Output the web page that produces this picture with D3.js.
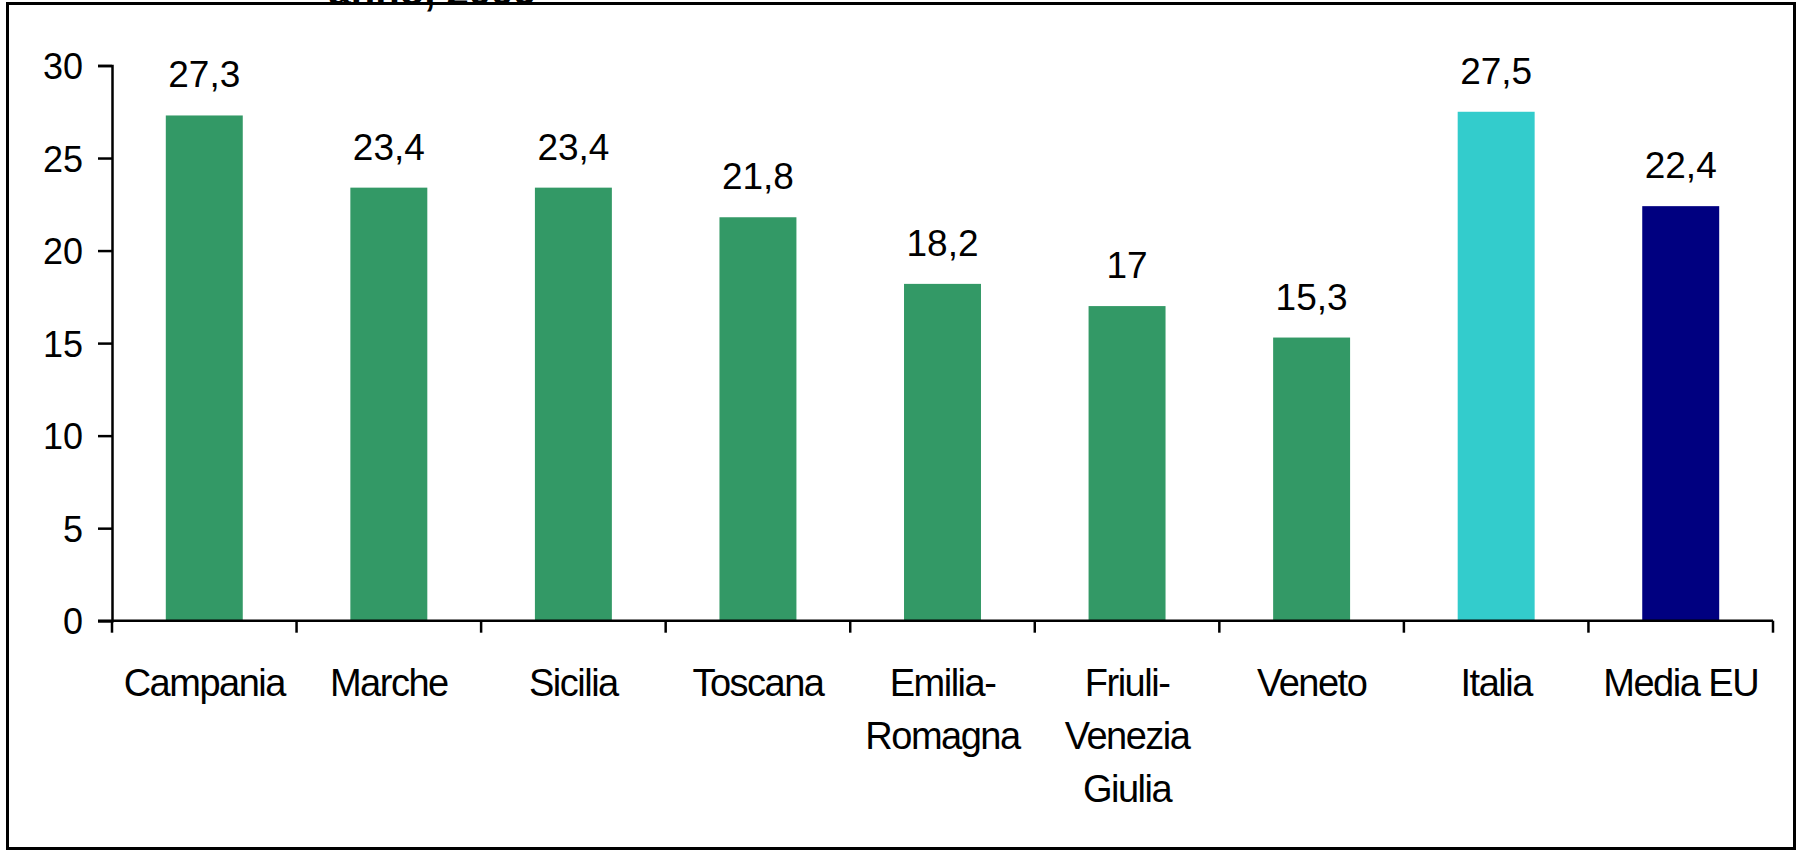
<!DOCTYPE html>
<html>
<head>
<meta charset="utf-8">
<script src="https://cdn.jsdelivr.net/npm/d3@7"></script>
<style>
  body { margin: 0; background: #fff; }
  svg { display: block; font-family: Arial, "Liberation Sans", sans-serif; }
</style>
</head>
<body>
<script>
// dati
const categories = ["Campania", "Marche", "Sicilia", "Toscana", "Emilia-Romagna",
  "Friuli-Venezia Giulia", "Veneto", "Italia", "Media EU"];
const labelLines = [["Campania"], ["Marche"], ["Sicilia"], ["Toscana"], ["Emilia-", "Romagna"],
  ["Friuli-", "Venezia", "Giulia"], ["Veneto"], ["Italia"], ["Media EU"]];
const values = [27.3, 23.4, 23.4, 21.8, 18.2, 17, 15.3, 27.5, 22.4];
const yTicks = [0, 5, 10, 15, 20, 25, 30];

const W = 1797, H = 852;
const mLeft = 112, mRight = 1773, mTop = 65.5, mBottom = 620.7;

const svg = d3.select("body").append("svg")
  .attr("width", W)
  .attr("height", H);

// cornice
svg.append("rect")
  .attr("x", 7.5).attr("y", 3.5)
  .attr("width", 1787).attr("height", 845)
  .attr("fill", "none")
  .attr("stroke", "#000")
  .attr("stroke-width", 3);

// titolo (tagliato in alto, come nell'originale)
svg.append("text")
  .attr("x", 432).attr("y", 5)
  .attr("text-anchor", "middle")
  .attr("font-weight", "bold")
  .attr("font-size", 40)
  .text("anno, 2006");

const x = d3.scaleBand().domain(categories).range([mLeft, mRight]);
const y = d3.scaleLinear().domain([0, 30]).range([mBottom, mTop]);

const colore = function(c) {
  if (c == "Italia") return "#33cccc";
  if (c == "Media EU") return "#000080";
  return "#339966";
};

const barW = x.bandwidth() * 0.417;

svg.selectAll("rect.bar")
  .data(values)
  .enter()
  .append("rect")
  .attr("class", "bar")
  .attr("x", function(d, i) { return x(categories[i]) + (x.bandwidth() - barW) / 2; })
  .attr("y", function(d) { return y(d); })
  .attr("width", barW)
  .attr("height", function(d) { return mBottom - y(d); })
  .attr("fill", function(d, i) { return colore(categories[i]); });

// etichette dei valori
svg.selectAll("text.val")
  .data(values)
  .enter()
  .append("text")
  .attr("class", "val")
  .attr("x", function(d, i) { return x(categories[i]) + x.bandwidth() / 2; })
  .attr("y", function(d) { return y(d) - 28; })
  .attr("text-anchor", "middle")
  .attr("font-size", 37)
  .text(function(d) { return String(d).replace(".", ","); });

// asse y
const yAxis = svg.append("g")
  .attr("transform", "translate(" + mLeft + ",0)")
  .call(d3.axisLeft(y).tickValues(yTicks).tickSize(14).tickPadding(15));
yAxis.selectAll("text").attr("font-size", 36).attr("fill", "#000").attr("dy", "0.36em");
yAxis.select(".domain").attr("stroke-width", 2.5);
yAxis.selectAll(".tick line").attr("stroke-width", 2.5);

// asse x con tacche ai bordi delle categorie
const xAxis = svg.append("g");
xAxis.append("line")
  .attr("x1", mLeft - 14).attr("x2", mRight)
  .attr("y1", mBottom).attr("y2", mBottom);
const bordi = categories.map(function(c) { return x(c); }).concat([mRight]);
xAxis.selectAll("line.tick")
  .data(bordi)
  .enter()
  .append("line")
  .attr("class", "tick")
  .attr("x1", function(d) { return d; }).attr("x2", function(d) { return d; })
  .attr("y1", mBottom).attr("y2", mBottom + 12);
xAxis.selectAll("line").attr("stroke", "#000").attr("stroke-width", 2.5);

const cat = svg.selectAll("text.cat")
  .data(labelLines)
  .enter()
  .append("text")
  .attr("class", "cat")
  .attr("x", function(d, i) { return x(categories[i]) + x.bandwidth() / 2; })
  .attr("y", 696)
  .attr("text-anchor", "middle")
  .attr("font-size", 38)
  .attr("letter-spacing", -1.5);

cat.selectAll("tspan")
  .data(function(d) { return d; })
  .enter()
  .append("tspan")
  .attr("x", function() { return this.parentNode.getAttribute("x"); })
  .attr("dy", function(d, i) { return i == 0 ? 0 : 53; })
  .text(function(d) { return d; });
</script>
</body>
</html>
